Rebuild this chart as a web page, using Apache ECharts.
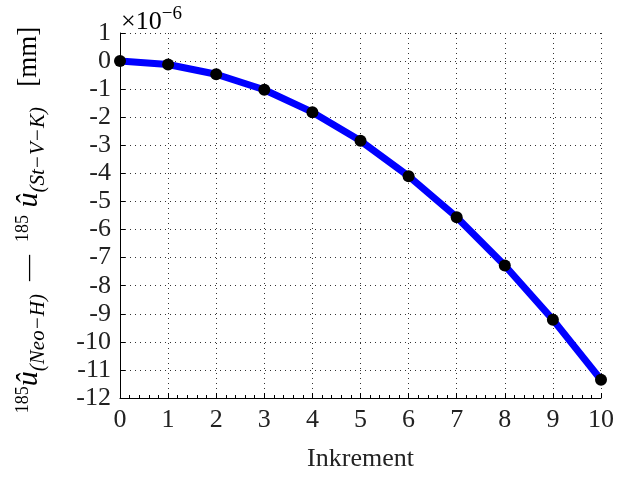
<!DOCTYPE html>
<html>
<head>
<meta charset="utf-8">
<script src="https://cdn.jsdelivr.net/npm/echarts@6/dist/echarts.min.js"></script>
<style>
html,body{margin:0;padding:0;background:#fff;}
#c{width:617px;height:477px;}
</style>
</head>
<body>
<div id="c"></div>
<script>
var increments = [0,1,2,3,4,5,6,7,8,9,10];
var diffValues = [0,-0.12,-0.47,-1.02,-1.82,-2.84,-4.10,-5.56,-7.28,-9.21,-11.35];
var xTicks = [0,1,2,3,4,5,6,7,8,9,10];
var yTicks = [1,0,-1,-2,-3,-4,-5,-6,-7,-8,-9,-10,-11,-12];

var FONT = '"Liberation Serif", "DejaVu Serif", serif';
var chart = echarts.init(document.getElementById('c'), null, {renderer:'canvas'});
var seriesData = increments.map(function(x,i){return [x, diffValues[i]];});

var option = {
  backgroundColor:'#fff',
  animation:false,
  grid:{left:120, right:10, top:33, bottom:73, containLabel:false},
  xAxis:{
    type:'value', min:xTicks[0], max:xTicks[xTicks.length-1], interval:1,
    name:'Inkrement', nameLocation:'middle', nameGap:48,
    nameTextStyle:{fontFamily:FONT, fontSize:26, color:'#222'},
    axisLine:{show:true, onZero:false, lineStyle:{color:'#000', width:1}},
    axisTick:{show:true, inside:true, length:5, lineStyle:{color:'#000'}},
    minorTick:{show:true, splitNumber:5, length:3, lineStyle:{color:'#000'}},
    axisLabel:{fontFamily:FONT, fontSize:26, color:'#222', margin:9},
    splitLine:{show:true, lineStyle:{color:'#333', type:[1,4], width:1}}
  },
  yAxis:{
    type:'value', min:yTicks[yTicks.length-1], max:yTicks[0], interval:1,
    axisLine:{show:true, onZero:false, lineStyle:{color:'#000', width:1}},
    axisTick:{show:true, inside:true, length:5, lineStyle:{color:'#000'}},
    axisLabel:{fontFamily:FONT, fontSize:26, color:'#222', margin:9},
    splitLine:{show:true, lineStyle:{color:'#333', type:[1,4], width:1}}
  },
  series:[{
    type:'line', data:seriesData, smooth:false,
    lineStyle:{color:'#0000ff', width:7},
    symbol:'circle', symbolSize:12,
    itemStyle:{color:'#000'},
    z:3
  }],
  graphic:[
    {
      type:'text', left:121, top:5,
      style:{
        text:'{a|×10}{b|−6}',
        rich:{
          a:{fontFamily:FONT, fontSize:26, color:'#222', lineHeight:30, verticalAlign:'bottom'},
          b:{fontFamily:FONT, fontSize:19, color:'#222', lineHeight:30, verticalAlign:'top'}
        }
      }
    },
    {
      type:'text', x:29, y:220, rotation:Math.PI/2,
      style:{
        text:'{sup|185}{main|û}{sub|(Neo−H)}{op|  —  }{sup|185}{main| û}{sub|(St−V−K)}{rm|   [mm]}',
        align:'center', verticalAlign:'middle',
        rich:{
          sup:{fontFamily:FONT, fontSize:18, color:'#222', lineHeight:44, verticalAlign:'top', padding:[7,0,0,0]},
          main:{fontFamily:FONT, fontSize:30, fontStyle:'italic', color:'#222', lineHeight:44, verticalAlign:'middle'},
          sub:{fontFamily:FONT, fontSize:21, fontStyle:'italic', color:'#222', lineHeight:44, verticalAlign:'bottom', padding:[0,0,2,0]},
          op:{fontFamily:FONT, fontSize:26, color:'#222', lineHeight:44, verticalAlign:'middle'},
          rm:{fontFamily:FONT, fontSize:27, color:'#222', lineHeight:44, verticalAlign:'middle'}
        }
      }
    }
  ]
};
chart.setOption(option);
</script>
</body>
</html>
